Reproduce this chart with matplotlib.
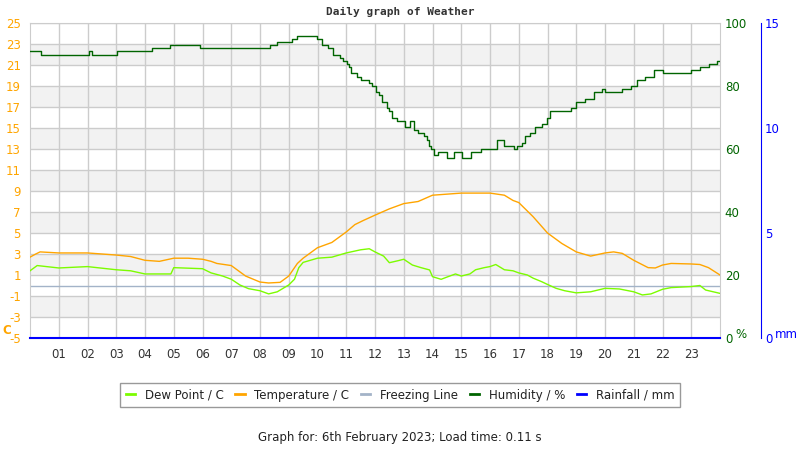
import numpy as np
import matplotlib
matplotlib.use("Agg")
import matplotlib.pyplot as plt
from matplotlib.lines import Line2D

plt.rcParams["axes.unicode_minus"] = False

# hours of the day and readings
temp_hours = [0.0, 0.2, 0.35, 1.0, 2.0, 3.0, 3.5, 4.0, 4.5, 5.0, 5.5, 6.0, 6.3, 6.5, 7.0, 7.3,
              7.5, 8.0, 8.3, 8.7, 9.0, 9.2, 9.3, 9.5, 9.7, 10.0, 10.5, 11.0, 11.3, 11.6, 12.0,
              12.5, 13.0, 13.5, 14.0, 14.5, 15.0, 16.0, 16.5, 16.8, 17.0, 17.5, 18.0, 18.5,
              19.0, 19.5, 20.0, 20.3, 20.6, 21.0, 21.5, 21.75, 22.0, 22.3, 23.0, 23.3, 23.6, 24.0]
temperature = [2.7, 3.0, 3.2, 3.1, 3.1, 2.9, 2.76, 2.4, 2.3, 2.6, 2.6, 2.5, 2.3, 2.1, 1.9, 1.3,
               0.9, 0.33, 0.24, 0.3, 0.9, 1.7, 2.1, 2.6, 3.0, 3.6, 4.1, 5.1, 5.8, 6.2, 6.7,
               7.3, 7.8, 8.0, 8.6, 8.7, 8.8, 8.8, 8.6, 8.1, 7.9, 6.55, 5.0, 4.0,
               3.2, 2.8, 3.1, 3.2, 3.06, 2.4, 1.7, 1.67, 1.95, 2.1, 2.05, 2.0, 1.7, 1.0]

dew_hours = [0.0, 0.25, 1.0, 2.0, 3.0, 3.5, 4.0, 4.9, 5.0, 6.0, 6.3, 6.7, 7.0, 7.3, 7.6, 8.0,
             8.3, 8.6, 9.0, 9.2, 9.35, 9.5, 10.0, 10.5, 11.0, 11.5, 11.8, 12.0, 12.3, 12.5,
             12.8, 13.0, 13.3, 13.6, 13.9, 14.0, 14.3, 14.5, 14.8, 15.0, 15.3, 15.5, 15.8,
             16.0, 16.2, 16.5, 16.8, 17.0, 17.3, 17.5, 17.8, 18.0, 18.3, 18.6, 19.0, 19.5,
             20.0, 20.5, 21.0, 21.3, 21.6, 22.0, 22.3, 23.0, 23.3, 23.5, 24.0]
dew_point = [1.4, 1.9, 1.67, 1.8, 1.5, 1.4, 1.1, 1.1, 1.7, 1.6, 1.2, 0.9, 0.6, 0.05, -0.3, -0.5,
             -0.8, -0.6, 0.05, 0.6, 1.7, 2.2, 2.6, 2.7, 3.1, 3.4, 3.5, 3.2, 2.8, 2.17,
             2.36, 2.5, 1.95, 1.7, 1.48, 0.84, 0.59, 0.8, 1.1, 0.9, 1.1, 1.5, 1.7,
             1.8, 2.0, 1.5, 1.4, 1.2, 1.0, 0.7, 0.36, 0.1, -0.27, -0.5, -0.7, -0.6,
             -0.27, -0.33, -0.6, -0.9, -0.8, -0.36, -0.2, -0.1, 0.0, -0.43, -0.75]

hum_hours = [0.0, 0.37, 2.05, 2.15, 3.02, 4.23, 4.87, 5.9, 8.35, 8.58, 8.93, 9.1, 9.3, 9.97,
             10.15, 10.37, 10.55, 10.66, 10.78, 10.9, 11.01, 11.1, 11.18, 11.36, 11.5, 11.65,
             11.78, 11.88, 12.05, 12.15, 12.23, 12.4, 12.5, 12.58, 12.75,
             13.05, 13.22, 13.34, 13.5, 13.6, 13.7, 13.8, 13.88, 13.96, 14.05, 14.2, 14.5, 14.75,
             15.04, 15.33, 15.68, 15.9, 16.25, 16.5, 16.83, 16.95, 17.1, 17.2, 17.4, 17.55, 17.8,
             17.97, 18.1, 18.8, 19.0, 19.3, 19.6, 19.9, 20.0, 20.6, 20.9, 21.1, 21.4, 21.7,
             22.0, 23.0, 23.3, 23.6, 23.9, 24.0]
humidity = [91, 90, 91, 90, 91, 92, 93, 92, 93, 94, 94, 95, 96, 95,
            93, 92, 90, 90, 89, 88, 87, 86, 84, 83, 82, 82,
            81, 80, 78, 77, 75, 73, 72, 70, 69,
            67, 69, 66, 65, 65, 64, 63, 61, 60, 58, 59, 57, 59,
            57, 59, 60, 60, 63, 61, 60, 61, 62, 64, 65, 67, 68,
            70, 72, 73, 75, 76, 78, 79, 78, 79, 80, 82, 83, 85,
            84, 85, 86, 87, 88, 88]

rain_hours = list(range(0, 25))
rainfall = [0] * 25

freezing_level = 0
hour_labels = ["%02d" % h for h in range(1, 24)]

orange = "#ffa500"
dgreen = "#006400"
grid_c = "#cccccc"

fig = plt.figure(figsize=(8, 4.5), dpi=100)
ax = fig.add_axes([30 / 800, 1 - 338 / 450, 690 / 800, 315 / 450])

# alternating background bands
for lo in range(-3, 23, 4):
    ax.axhspan(lo, lo + 2, color="#f2f2f2", zorder=0, lw=0)

ax.plot(dew_hours, dew_point, color="#7cfc00", lw=1, zorder=3)
ax.plot(temp_hours, temperature, color=orange, lw=1, zorder=3)
ax.axhline(freezing_level, color="#a3b3c8", lw=1, zorder=2)

ax.set_xlim(0, 24)
ax.set_ylim(-5, 25)
ax.set_yticks(range(-5, 26, 2))
ax.set_xticks(range(1, 24), hour_labels)
ax.grid(True, color=grid_c, lw=1, zorder=1)
ax.set_axisbelow(True)
ax.tick_params(axis="y", length=0, pad=6.5, labelsize=8.5, labelcolor=orange)
ax.tick_params(axis="x", length=0, pad=7, labelsize=8.5, labelcolor="#333333")
for s in ax.spines.values():
    s.set_color(grid_c)

# humidity axis
axh = ax.twinx()
axh.plot(hum_hours, humidity, color=dgreen, lw=1, drawstyle="steps-post", zorder=4)
axh.set_ylim(0, 100)
axh.set_yticks(range(0, 101, 20))
axh.tick_params(axis="y", length=0, pad=3.5, labelsize=8.5, labelcolor=dgreen)
for s in axh.spines.values():
    s.set_visible(False)

# rainfall axis
axr = ax.twinx()
axr.plot(rain_hours, rainfall, color="#0000ff", lw=1.5, clip_on=False, zorder=5)
axr.set_ylim(0, 15)
axr.set_yticks([0, 5, 10, 15])
axr.spines["right"].set_position(("axes", 1.0594))
for s in axr.spines.values():
    s.set_visible(False)
axr.spines["right"].set_visible(True)
axr.spines["right"].set_color("#0000ff")
axr.tick_params(axis="y", length=0, pad=3, labelsize=8.5, labelcolor="#0000ff")

# unit labels
fig.text(2.5 / 800, 1 - 331 / 450, "C", color=orange, fontsize=8.5, fontweight="bold", va="center")
fig.text(735 / 800, 1 - 334 / 450, "%", color=dgreen, fontsize=8.5, va="center")
fig.text(775 / 800, 1 - 334 / 450, "mm", color="#0000ff", fontsize=8.5, va="center")

fig.text(0.5, 1 - 12 / 450, "Daily graph of Weather", ha="center", va="center",
         family="DejaVu Sans Mono", fontweight="bold", fontsize=8, color="#333333")

handles = [Line2D([], [], color="#7cfc00", lw=2),
           Line2D([], [], color=orange, lw=2),
           Line2D([], [], color="#a3b3c8", lw=2),
           Line2D([], [], color=dgreen, lw=2),
           Line2D([], [], color="#0000ff", lw=2)]
labels = ["Dew Point / C", "Temperature / C", "Freezing Line", "Humidity / %", "Rainfall / mm"]
leg = fig.legend(handles, labels, loc="center", bbox_to_anchor=(0.5, 1 - 395 / 450), ncol=5,
                 fontsize=8.5, frameon=True, fancybox=False, handlelength=0.8,
                 handletextpad=0.8, columnspacing=1.0, borderpad=0.5, borderaxespad=0)
leg.get_frame().set_edgecolor("#808080")
leg.get_frame().set_linewidth(1)
for t in leg.get_texts():
    t.set_color("#222222")

fig.text(0.5, 1 - 437 / 450, "Graph for: 6th February 2023; Load time: 0.11 s",
         ha="center", va="center", fontsize=8.5, color="#222222")

fig.savefig("out.png", dpi=100)
